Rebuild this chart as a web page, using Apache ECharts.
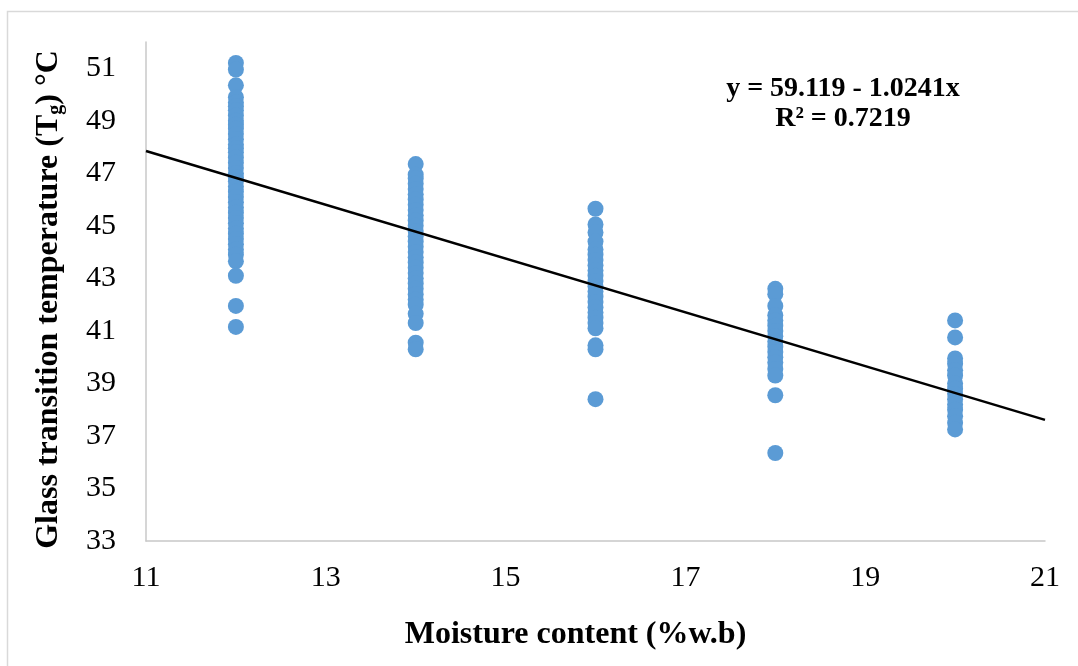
<!DOCTYPE html>
<html>
<head>
<meta charset="utf-8">
<script src="https://cdn.jsdelivr.net/npm/echarts@6/dist/echarts.min.js"></script>
<style>
  html, body { margin: 0; padding: 0; background: #fff; }
  #chart { width: 1078px; height: 666px; }
</style>
</head>
<body>
<div id="chart"></div>
<script>
const moisture = [12, 14, 16, 18, 20];

const tg12 = [51.2, 50.95, 50.35, 49.9, 49.7, 49.55, 49.4, 49.2, 49.0, 48.85, 48.7, 48.5,
  48.3, 48.1, 47.95, 47.8, 47.6, 47.4, 47.2, 47.0, 46.85, 46.7, 46.5, 46.3, 46.1, 45.9,
  45.7, 45.5, 45.3, 45.1, 44.9, 44.7, 44.5, 44.3, 44.1, 43.9, 43.65, 43.1, 41.95, 41.15];
const tg14 = [47.35, 46.95, 46.8, 46.6, 46.4, 46.2, 46.0, 45.8, 45.6, 45.4, 45.2, 45.0,
  44.8, 44.6, 44.4, 44.2, 44.0, 43.8, 43.6, 43.4, 43.2, 43.0, 42.8, 42.6, 42.4, 42.2,
  42.0, 41.65, 41.3, 40.55, 40.3];
const tg16 = [45.65, 45.05, 44.75, 44.4, 44.1, 43.9, 43.7, 43.5, 43.3, 43.1, 42.9, 42.7,
  42.5, 42.3, 42.1, 41.9, 41.7, 41.5, 41.3, 41.1, 40.45, 40.3, 38.4];
const tg18 = [42.6, 42.4, 41.95, 41.6, 41.4, 41.2, 41.0, 40.8, 40.6, 40.4, 40.2, 40.0,
  39.8, 39.55, 39.3, 38.55, 36.35];
const tg20 = [41.4, 40.75, 39.95, 39.75, 39.5, 39.3, 39.0, 38.8, 38.6, 38.4, 38.2, 38.0,
  37.75, 37.5, 37.25];

// Linear trendline end points (y = 59.119 - 1.0241x)
const trendX = [11, 21];
const trendY = [47.85, 37.61];

const equationText = 'y = 59.119 - 1.0241x';
const r2Text = 'R² = 0.7219';

const columns = [tg12, tg14, tg16, tg18, tg20];
const points = [];
columns.forEach((vals, i) => {
  vals.forEach((v) => points.push([moisture[i], v]));
});

const font = 'Liberation Serif, Times New Roman, serif';

var chart = echarts.init(document.getElementById('chart'));
var option = {
  backgroundColor: '#fff',
  animation: false,
  grid: { left: 146, right: 33, top: 42, bottom: 125 },
  xAxis: {
    type: 'value',
    min: 11,
    max: 21,
    interval: 2,
    name: 'Moisture content (%w.b)',
    nameLocation: 'middle',
    nameGap: 78,
    nameTextStyle: { fontFamily: font, fontWeight: 'bold', fontSize: 32, color: '#000', padding: [0, 40, 0, 0] },
    axisLine: { show: true, lineStyle: { color: '#c8c8c8', width: 1.5 } },
    axisTick: { show: false },
    splitLine: { show: false },
    axisLabel: { fontFamily: font, fontSize: 30, color: '#000', margin: 22 }
  },
  yAxis: {
    type: 'value',
    min: 33,
    max: 52,
    interval: 2,
    name: '{a|Glass transition temperature (T}{s|g}{a|) °C}',
    nameLocation: 'middle',
    nameRotate: 90,
    nameGap: 80,
    nameTextStyle: {
      padding: [0, 16, 0, 0],
      rich: {
        a: { fontFamily: font, fontWeight: 'bold', fontSize: 32, color: '#000' },
        s: { fontFamily: font, fontWeight: 'bold', fontSize: 20, color: '#000', verticalAlign: 'bottom', padding: [14, 0, 0, 0] }
      }
    },
    axisLine: { show: true, lineStyle: { color: '#c8c8c8', width: 1.5 } },
    axisTick: { show: false },
    splitLine: { show: false },
    axisLabel: { fontFamily: font, fontSize: 30, color: '#000', margin: 30, showMaxLabel: false }
  },
  series: [
    {
      name: 'Tg',
      type: 'scatter',
      symbol: 'circle',
      symbolSize: 16,
      itemStyle: { color: '#5B9BD5', opacity: 1 },
      data: points,
      z: 2
    },
    {
      name: 'Linear (Tg)',
      type: 'line',
      data: trendX.map((x, i) => [x, trendY[i]]),
      symbol: 'none',
      lineStyle: { color: '#000', width: 2.5 },
      z: 3
    }
  ],
  graphic: [
    {
      type: 'rect',
      shape: { x: 7.5, y: 11.5, width: 1100, height: 700 },
      style: { fill: 'none', stroke: '#d9d9d9', lineWidth: 1.5 },
      silent: true,
      z: -1
    },
    {
      type: 'text',
      x: 843,
      y: 89,
      style: { text: equationText, font: 'bold 28px ' + font, fill: '#000', textAlign: 'center', textVerticalAlign: 'middle' }
    },
    {
      type: 'text',
      x: 843,
      y: 119,
      style: { text: r2Text, font: 'bold 28px ' + font, fill: '#000', textAlign: 'center', textVerticalAlign: 'middle' }
    }
  ]
};

option && chart.setOption(option);
</script>
</body>
</html>
